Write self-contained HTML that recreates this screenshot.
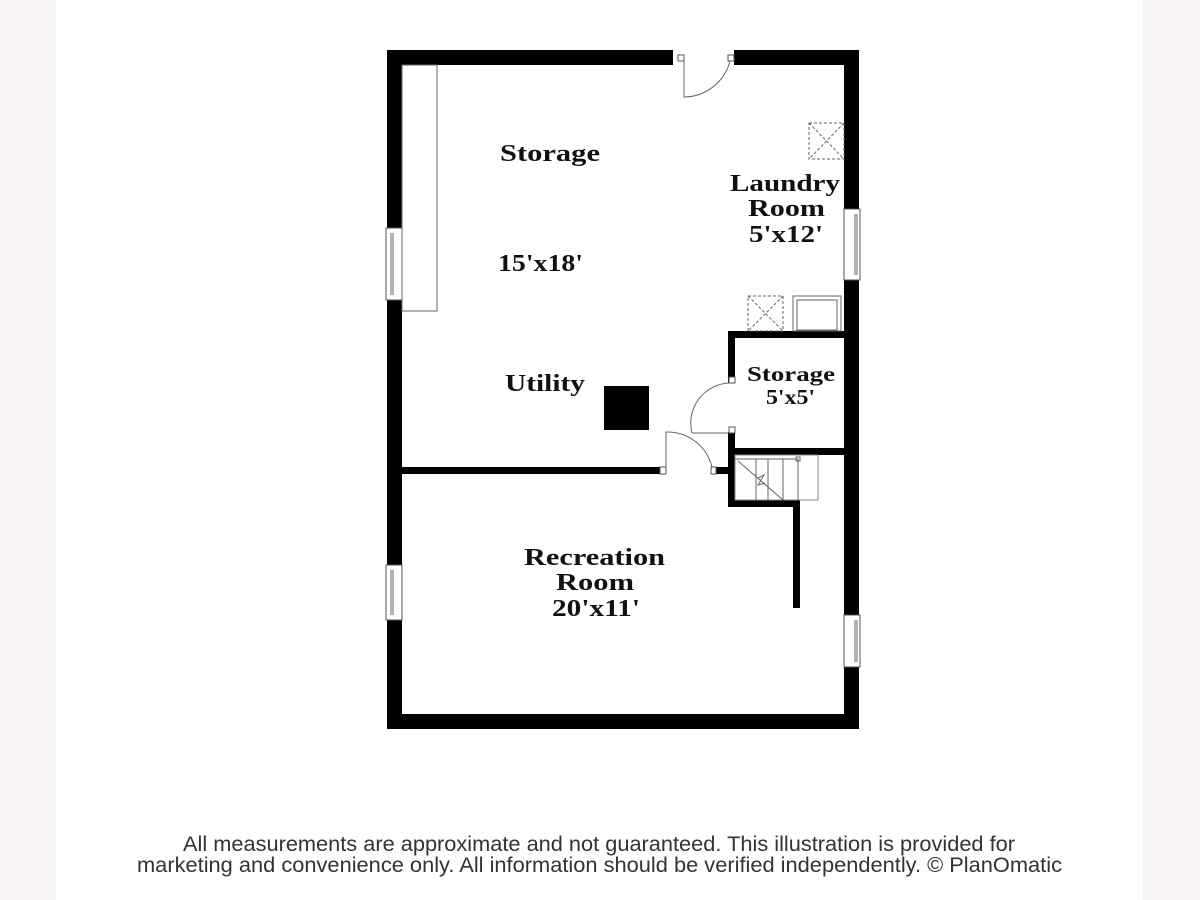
<!DOCTYPE html>
<html><head><style>
html,body{margin:0;padding:0;width:1200px;height:900px;overflow:hidden;background:#fff;}
</style></head><body>
<svg width="1200" height="900" viewBox="0 0 1200 900" xmlns="http://www.w3.org/2000/svg">
<rect x="0" y="0" width="1200" height="900" fill="#fff"/>
<rect x="0" y="0" width="56" height="900" fill="#f7f3f7"/>
<rect x="1143" y="0" width="57" height="900" fill="#f7f3f7"/>
<g fill="#000">
<rect x="387" y="50" width="286" height="15"/>
<rect x="734" y="50" width="125" height="15"/>
<rect x="387" y="50" width="15" height="679"/>
<rect x="844" y="50" width="15" height="679"/>
<rect x="387" y="714" width="472" height="15"/>
<rect x="728" y="331" width="120" height="7"/>
<rect x="728" y="331" width="7" height="52"/>
<rect x="728" y="432" width="7" height="75"/>
<rect x="728" y="448" width="120" height="7"/>
<rect x="728" y="500" width="72" height="7"/>
<rect x="793" y="500" width="7" height="108"/>
<rect x="402" y="467" width="258" height="7"/>
<rect x="716" y="467" width="12" height="7"/>
<rect x="604" y="386" width="45" height="44"/>
</g>
<g fill="#fff" stroke="#555" stroke-width="1">
<rect x="386" y="228" width="16" height="72"/>
<rect x="386" y="565" width="16" height="55"/>
<rect x="844" y="209" width="16" height="71"/>
<rect x="844" y="615" width="16" height="52"/>
<rect x="678" y="55" width="6" height="6"/>
<rect x="728" y="55" width="6" height="6"/>
<rect x="729" y="377" width="6" height="6"/>
<rect x="729" y="427" width="6" height="6"/>
<rect x="660" y="467" width="6" height="7"/>
<rect x="711" y="467" width="5" height="7"/>
</g>
<g fill="none" stroke="#666" stroke-width="1">
<line x1="391" y1="233" x2="391" y2="295"/><line x1="393" y1="233" x2="393" y2="295"/>
<line x1="391" y1="570" x2="391" y2="615"/><line x1="393" y1="570" x2="393" y2="615"/>
<line x1="855" y1="214" x2="855" y2="275"/><line x1="857" y1="214" x2="857" y2="275"/>
<line x1="855" y1="620" x2="855" y2="662"/><line x1="857" y1="620" x2="857" y2="662"/>
<rect x="402" y="65" width="35" height="246"/>
<path d="M684 61 V97 A48 48 0 0 0 730 61"/>
<path d="M729 433 H692 A40 40 0 0 1 730 383" />
<path d="M666 467 V432 A46 46 0 0 1 712 467"/>
<rect x="809" y="123" width="35" height="36" stroke-dasharray="3,2"/>
<path d="M809 123 L844 159 M844 123 L809 159" stroke-dasharray="3,2"/>
<rect x="748" y="296" width="35" height="35" stroke-dasharray="3,2"/>
<path d="M748 296 L783 331 M783 296 L748 331" stroke-dasharray="3,2"/>
<rect x="793" y="296" width="48" height="35"/>
<rect x="797" y="300" width="40" height="30"/>
<rect x="735" y="455" width="83" height="45" stroke="#888"/>
<line x1="735" y1="459" x2="798" y2="459"/>
<rect x="796" y="457" width="4" height="4"/>
<line x1="756" y1="459" x2="756" y2="500"/>
<line x1="768" y1="459" x2="768" y2="500"/>
<line x1="783" y1="459" x2="783" y2="500"/>
<line x1="798" y1="459" x2="798" y2="500"/>
<line x1="738" y1="461" x2="783" y2="500"/>
<path d="M758 478 L764 475 L758 485 L765 483"/>
</g>
<g font-family="'Liberation Serif',serif" font-weight="bold" fill="#111" font-size="24" lengthAdjust="spacingAndGlyphs">
<text x="500" y="161" textLength="100" lengthAdjust="spacingAndGlyphs">Storage</text>
<text x="498" y="271" textLength="85" lengthAdjust="spacingAndGlyphs">15'x18'</text>
<text x="505" y="391" textLength="80" lengthAdjust="spacingAndGlyphs">Utility</text>
<text x="730" y="191" textLength="110" lengthAdjust="spacingAndGlyphs">Laundry</text>
<text x="748" y="216" textLength="77" lengthAdjust="spacingAndGlyphs">Room</text>
<text x="749" y="242" textLength="74" lengthAdjust="spacingAndGlyphs">5'x12'</text>
<text x="747" y="381" font-size="21" textLength="88" lengthAdjust="spacingAndGlyphs">Storage</text>
<text x="766" y="404" font-size="21" textLength="49" lengthAdjust="spacingAndGlyphs">5'x5'</text>
<text x="524" y="565" textLength="141" lengthAdjust="spacingAndGlyphs">Recreation</text>
<text x="556" y="590" textLength="78" lengthAdjust="spacingAndGlyphs">Room</text>
<text x="552" y="616" textLength="88" lengthAdjust="spacingAndGlyphs">20'x11'</text>
</g>
<g font-family="'Liberation Sans',sans-serif" fill="#333" font-size="21">
<text x="183" y="851" textLength="832" lengthAdjust="spacingAndGlyphs">All measurements are approximate and not guaranteed. This illustration is provided for</text>
<text x="137" y="872" textLength="925" lengthAdjust="spacingAndGlyphs">marketing and convenience only. All information should be verified independently. © PlanOmatic</text>
</g>
</svg>
</body></html>
